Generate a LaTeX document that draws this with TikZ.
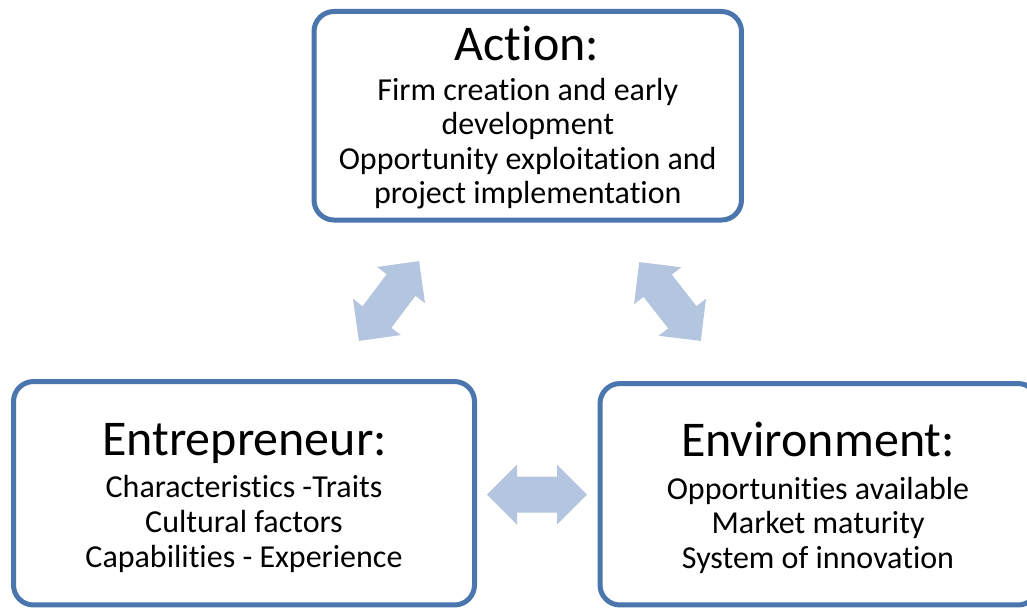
\documentclass[tikz,border=0pt]{standalone}
\usepackage{fontspec}
\setmainfont{Carlito}[Ligatures=NoCommon,RawFeature=-liga]
\definecolor{boxblue}{HTML}{4A76AD}
\definecolor{arrowblue}{HTML}{B4C5DF}
\begin{document}
\begin{tikzpicture}[x=0.75pt,y=-0.75pt,
  panel/.style={draw=boxblue,line width=3.75pt,rounded corners=15pt,fill=white,rectangle,inner sep=0pt},
  titletext/.style={anchor=base,inner sep=0pt,font=\fontsize{37.5}{44}\selectfont},
  bodytext/.style={anchor=base,inner sep=0pt,font=\fontsize{24}{29}\selectfont},
  dblarr/.pic={\fill[arrowblue] (-50,0) -- (-20,30) -- (-20,18) -- (20,18) -- (20,30) -- (50,0) -- (20,-30) -- (20,-18) -- (-20,-18) -- (-20,-30) -- cycle;}]
\useasboundingbox (0,0) rectangle (1027,608);
% boxes
\node[panel,minimum width=320.6pt,minimum height=156.4pt] (action) at (527.75,115.75) {};
\node[panel,minimum width=345.75pt,minimum height=167.6pt] (entre) at (244,493.25) {};
\node[panel,minimum width=328.5pt,minimum height=166.1pt] (env) at (819,494.25) {};
% action text
\node[titletext] (a0) at (527,60) {Action:};
\node[bodytext] (a1) at (527.75,100.7) {Firm creation and early};
\node[bodytext] (a2) at (527.75,134.5) {development};
\node[bodytext] (a3) at (527.75,169) {Opportunity exploitation and};
\node[bodytext] (a4) at (527.75,203) {project implementation};
% entrepreneur text
\node[titletext] (e0) at (244.5,455) {Entrepreneur:};
\node[bodytext] (e1) at (244,497) {Characteristics -Traits};
\node[bodytext] (e2) at (244,532) {Cultural factors};
\node[bodytext] (e3) at (244,567) {Capabilities - Experience};
% environment text
\node[titletext] (v0) at (818,456) {Environment:};
\node[bodytext] (v1) at (818,499) {Opportunities available};
\node[bodytext] (v2) at (818,533) {Market maturity};
\node[bodytext] (v3) at (818,568) {System of innovation};
% arrows
\pic[rotate=53] (arrL) at (389,301) {dblarr};
\pic[rotate=-52] (arrR) at (670,301.5) {dblarr};
\pic (arrH) at (537,494.5) {dblarr};
\end{tikzpicture}
\end{document}
